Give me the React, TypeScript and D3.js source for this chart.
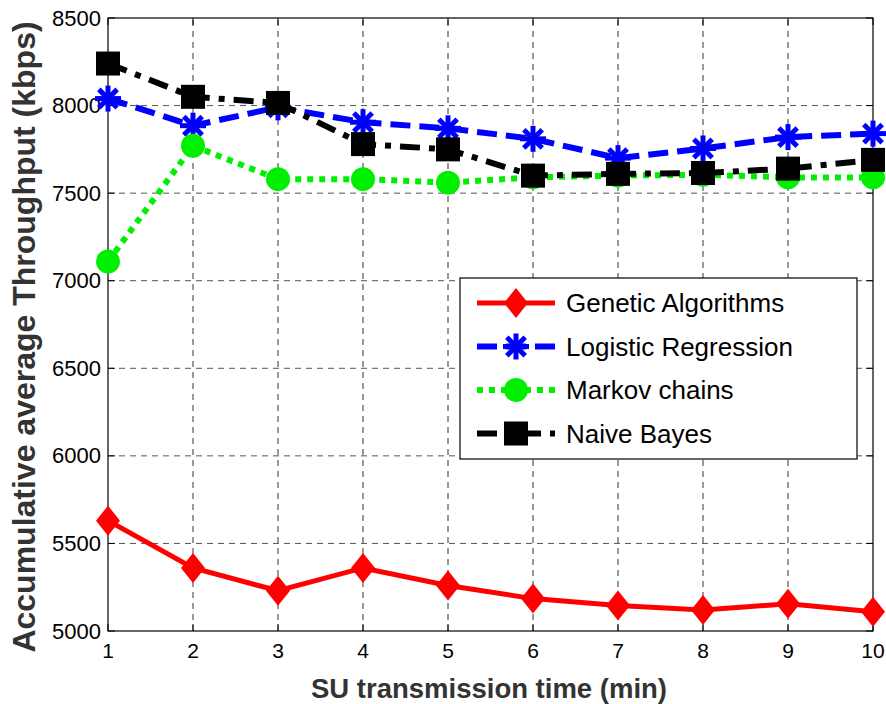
import { useEffect, useRef } from 'react';
import * as d3 from 'd3';

// values
const times = [1, 2, 3, 4, 5, 6, 7, 8, 9, 10];
const geneticAlgorithms = [5630, 5360, 5230, 5360, 5260, 5185, 5145, 5120, 5155, 5110];
const logisticRegression = [8040, 7885, 7990, 7905, 7870, 7810, 7700, 7755, 7820, 7840];
const markovChains = [7110, 7770, 7580, 7580, 7560, 7590, 7600, 7605, 7590, 7590];
const naiveBayes = [8240, 8050, 8015, 7780, 7750, 7600, 7610, 7615, 7640, 7690];
const yTicks = [5000, 5500, 6000, 6500, 7000, 7500, 8000, 8500];
const seriesNames = ['Genetic Algorithms', 'Logistic Regression', 'Markov chains', 'Naive Bayes'];

const App = () => {
  const svgRef = useRef(null);

  useEffect(() => {
    const width = 886;
    const height = 704;
    const margin = { left: 108, right: 13, top: 18, bottom: 73 };
    const font = 'Arial, "Liberation Sans", sans-serif';

    const svg = d3.select(svgRef.current);
    svg.selectAll('*').remove();
    svg.attr('width', width).attr('height', height);

    svg.append('rect').attr('width', width).attr('height', height).attr('fill', 'white');

    const x = d3.scaleLinear().domain([1, 10]).range([margin.left, width - margin.right]);
    const y = d3.scaleLinear().domain([5000, 8500]).range([height - margin.bottom, margin.top]);

    // grid
    const grid = svg.append('g');
    grid.selectAll('line.v')
      .data(times.slice(1, -1))
      .enter()
      .append('line')
      .attr('x1', d => x(d)).attr('x2', d => x(d))
      .attr('y1', y(5000)).attr('y2', y(8500))
      .attr('stroke', '#333')
      .attr('stroke-width', 1)
      .attr('stroke-dasharray', '6,5');
    grid.selectAll('line.h')
      .data(yTicks.slice(1, -1))
      .enter()
      .append('line')
      .attr('x1', x(1)).attr('x2', x(10))
      .attr('y1', d => y(d)).attr('y2', d => y(d))
      .attr('stroke', '#555')
      .attr('stroke-width', 1)
      .attr('stroke-dasharray', '6,5');

    // box + inner ticks
    svg.append('rect')
      .attr('x', x(1)).attr('y', y(8500))
      .attr('width', x(10) - x(1)).attr('height', y(5000) - y(8500))
      .attr('fill', 'none').attr('stroke', '#000').attr('stroke-width', 1.2);

    const tickLen = 7;
    times.forEach(t => {
      svg.append('line').attr('x1', x(t)).attr('x2', x(t)).attr('y1', y(5000)).attr('y2', y(5000) - tickLen).attr('stroke', '#000');
      svg.append('line').attr('x1', x(t)).attr('x2', x(t)).attr('y1', y(8500)).attr('y2', y(8500) + tickLen).attr('stroke', '#000');
    });
    yTicks.forEach(v => {
      svg.append('line').attr('x1', x(1)).attr('x2', x(1) + tickLen).attr('y1', y(v)).attr('y2', y(v)).attr('stroke', '#000');
      svg.append('line').attr('x1', x(10)).attr('x2', x(10) - tickLen).attr('y1', y(v)).attr('y2', y(v)).attr('stroke', '#000');
    });

    // tick labels
    svg.append('g').selectAll('text')
      .data(times)
      .enter()
      .append('text')
      .attr('x', d => x(d))
      .attr('y', y(5000) + 27)
      .attr('text-anchor', 'middle')
      .style('font-family', font)
      .style('font-size', '21px')
      .text(d => d);
    svg.append('g').selectAll('text')
      .data(yTicks)
      .enter()
      .append('text')
      .attr('x', x(1) - 7)
      .attr('y', d => y(d) + 7.5)
      .attr('text-anchor', 'end')
      .style('font-family', font)
      .style('font-size', '22px')
      .text(d => d);

    // axis titles
    svg.append('text')
      .attr('x', 489)
      .attr('y', 698)
      .attr('text-anchor', 'middle')
      .attr('fill', '#333')
      .style('font-family', font)
      .style('font-size', '27.5px')
      .style('font-weight', 'bold')
      .text('SU transmission time (min)');
    svg.append('text')
      .attr('transform', 'translate(35,337) rotate(-90)')
      .attr('text-anchor', 'middle')
      .attr('fill', '#333')
      .style('font-family', font)
      .style('font-size', '32px')
      .style('font-weight', 'bold')
      .text('Accumulative average Throughput (kbps)');

    const series = [
      { name: seriesNames[0], values: geneticAlgorithms, color: '#ff0000', dash: null, width: 5, marker: 'diamond' },
      { name: seriesNames[1], values: logisticRegression, color: '#0000ff', dash: '20,9', width: 6, marker: 'star' },
      { name: seriesNames[2], values: markovChains, color: '#00ee00', dash: '6,6', width: 6, marker: 'circle' },
      { name: seriesNames[3], values: naiveBayes, color: '#000000', dash: '20,9,6,9', width: 6, marker: 'square' },
    ];

    const drawMarker = (g, type, color, cx, cy) => {
      if (type === 'diamond') {
        g.append('path')
          .attr('d', `M${cx},${cy - 15}L${cx + 12},${cy}L${cx},${cy + 15}L${cx - 12},${cy}Z`)
          .attr('fill', color);
      } else if (type === 'circle') {
        g.append('circle').attr('cx', cx).attr('cy', cy).attr('r', 12).attr('fill', color);
      } else if (type === 'square') {
        g.append('rect').attr('x', cx - 12).attr('y', cy - 12).attr('width', 24).attr('height', 24).attr('fill', color);
      } else {
        const r = 13;
        [0, 45, 90, 135].forEach(a => {
          const rad = (a * Math.PI) / 180;
          g.append('line')
            .attr('x1', cx - r * Math.cos(rad)).attr('y1', cy - r * Math.sin(rad))
            .attr('x2', cx + r * Math.cos(rad)).attr('y2', cy + r * Math.sin(rad))
            .attr('stroke', color).attr('stroke-width', 5);
        });
      }
    };

    const line = d3.line().x(d => x(d[0])).y(d => y(d[1]));

    series.forEach(s => {
      const g = svg.append('g');
      const pts = times.map((t, i) => [t, s.values[i]]);
      g.append('path')
        .attr('d', line(pts))
        .attr('fill', 'none')
        .attr('stroke', s.color)
        .attr('stroke-width', s.width)
        .attr('stroke-dasharray', s.dash);
      pts.forEach(p => drawMarker(g, s.marker, s.color, x(p[0]), y(p[1])));
    });

    // legend
    const legend = svg.append('g');
    legend.append('rect')
      .attr('x', 460).attr('y', 278)
      .attr('width', 397).attr('height', 181)
      .attr('fill', 'white').attr('stroke', '#000').attr('stroke-width', 1.2);
    series.forEach((s, i) => {
      const ly = 303 + i * 43.5;
      legend.append('line')
        .attr('x1', 477).attr('x2', 555)
        .attr('y1', ly).attr('y2', ly)
        .attr('stroke', s.color)
        .attr('stroke-width', s.width)
        .attr('stroke-dasharray', s.dash);
      drawMarker(legend, s.marker, s.color, 516, ly);
      legend.append('text')
        .attr('x', 566)
        .attr('y', ly + 9)
        .style('font-family', font)
        .style('font-size', '26px')
        .text(s.name);
    });
  }, []);

  return <svg ref={svgRef} style={{ display: 'block', position: 'absolute', left: 0, top: 0 }}></svg>;
};

export default App;
